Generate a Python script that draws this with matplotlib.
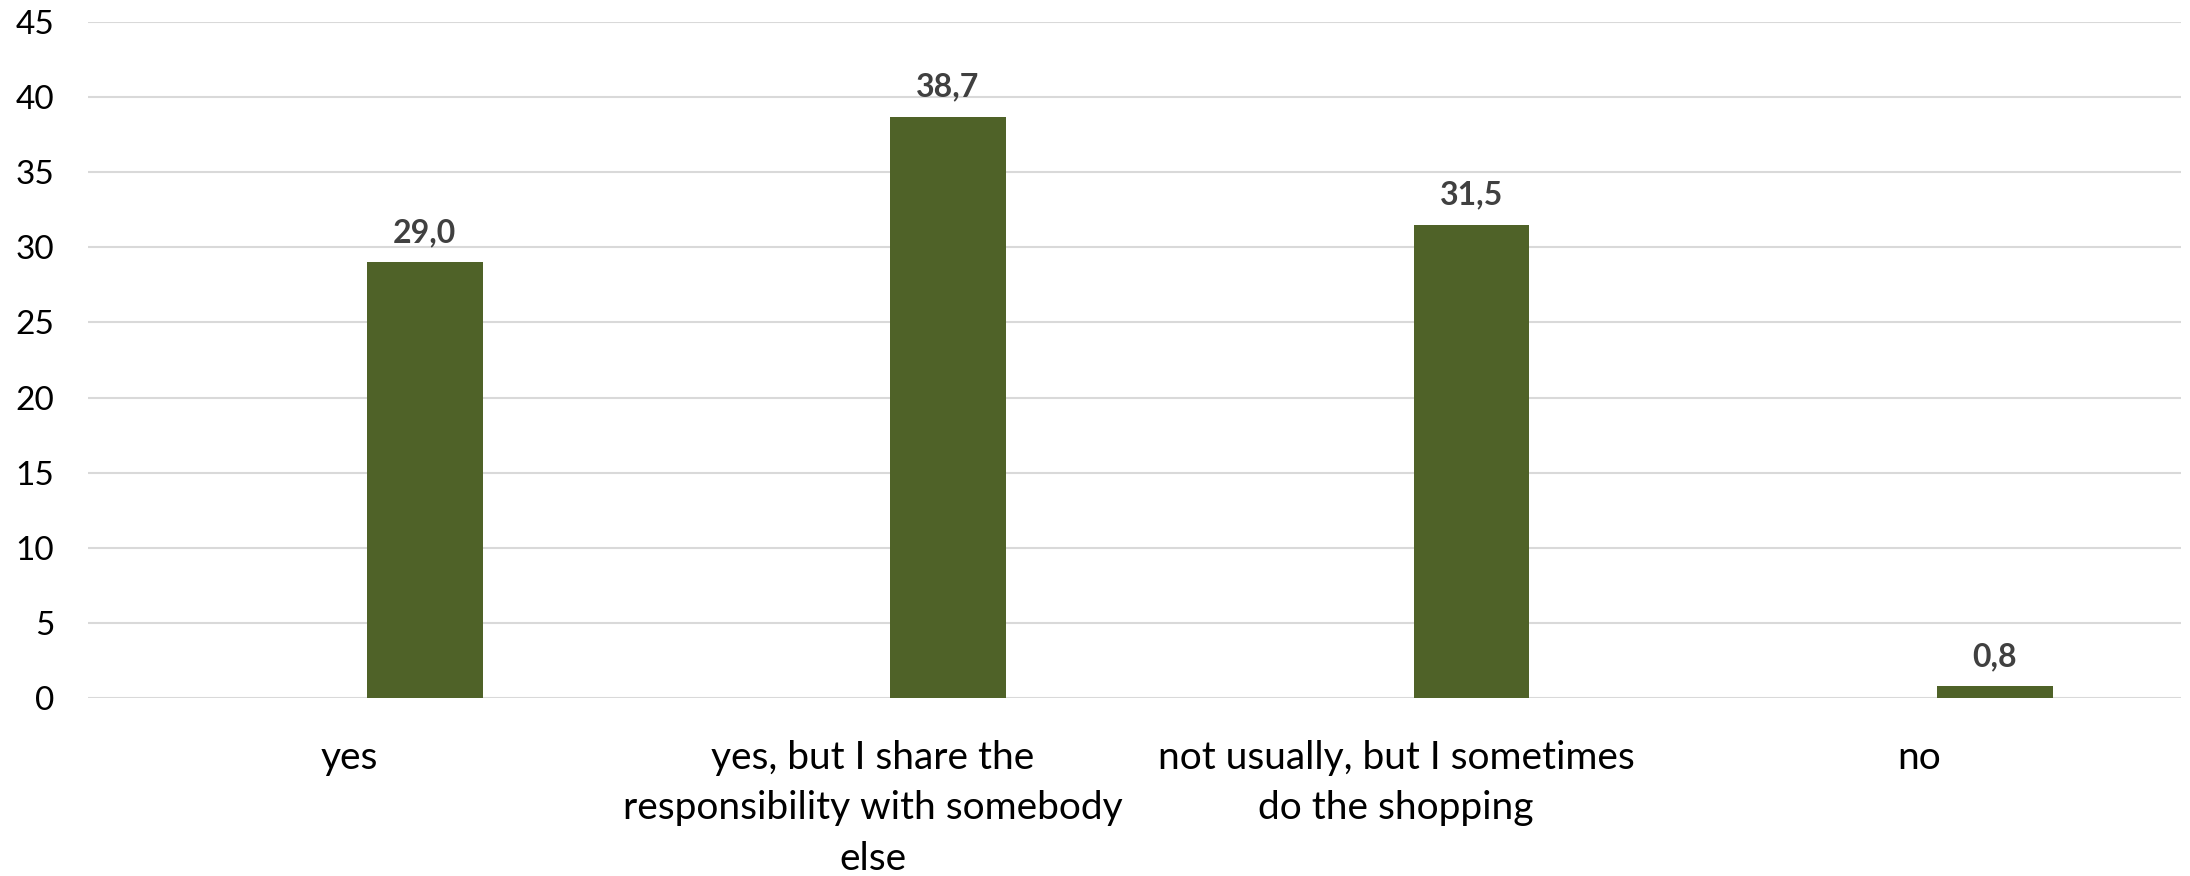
import numpy as np
import matplotlib.pyplot as plt

categories = ['yes', 'yes, but I share the\nresponsibility with somebody\nelse',
              'not usually, but I sometimes\ndo the shopping', 'no']
values = [29.0, 38.7, 31.5, 0.8]
yticks = list(range(0, 50, 5))

plt.rcParams['font.family'] = ['Lato', 'DejaVu Sans']

fig = plt.figure(figsize=(21.9, 8.76), dpi=100)
ax = fig.add_axes([0.040, 0.203, 0.956, 0.772])

x = np.arange(len(categories))
bars = ax.bar(x + 0.144, values, width=0.221, color='#4F6228', zorder=3)

for b, v in zip(bars, values):
    ax.annotate(f'{v:.1f}'.replace('.', ','), (b.get_x() + b.get_width() / 2, v),
                xytext=(0, 11), textcoords='offset points', ha='center', va='bottom',
                fontsize=23, fontweight='bold', color='#404040')

ax.set_xlim(-0.5, 3.5)
ax.set_ylim(0, 45)
ax.set_yticks(yticks)
ax.set_xticks(x)
ax.set_xticklabels(categories, fontsize=28, linespacing=1.5)
ax.tick_params(axis='y', length=0, pad=24, labelsize=24)
ax.tick_params(axis='x', length=0, pad=30)
ax.grid(axis='y', color='#D9D9D9', linewidth=1.5, zorder=0)
for s in ax.spines.values():
    s.set_visible(False)

fig.savefig('out.png', dpi=100)
